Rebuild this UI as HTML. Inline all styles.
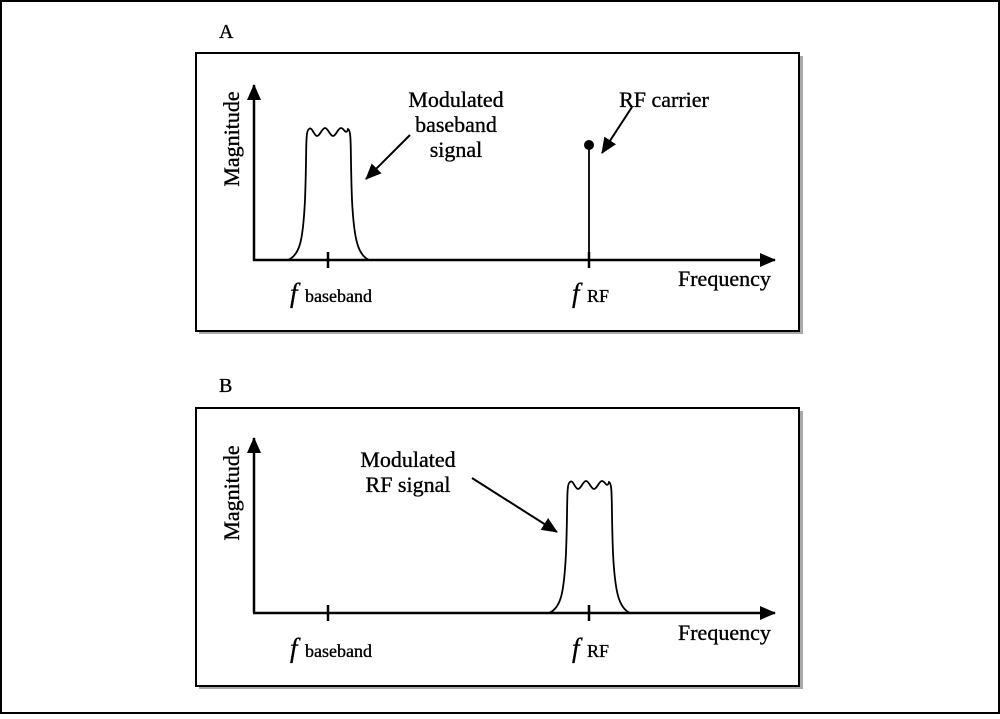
<!DOCTYPE html>
<html><head><style>
html,body{margin:0;padding:0;background:#fff}
svg text{font-family:"Liberation Serif",serif;fill:#000;stroke:#000;stroke-width:0.35}
</style></head><body>
<svg width="1000" height="714" viewBox="0 0 1000 714" xmlns="http://www.w3.org/2000/svg">
<defs>
<marker id="ah2" markerWidth="16" markerHeight="14" refX="15" refY="7" orient="auto" markerUnits="userSpaceOnUse"><path d="M0,0 L16,7 L0,14 z" fill="#000"/></marker></defs>
<rect x="1" y="1" width="998" height="712" fill="#fff" stroke="#000" stroke-width="2"/>
<!-- Panel A -->
<text x="219" y="38" font-size="20">A</text>
<rect x="199" y="56" width="604" height="278" fill="#aaa"/>
<rect x="196" y="53" width="603" height="278" fill="#fff" stroke="#000" stroke-width="2"/>
<line x1="254" y1="261" x2="254" y2="85" stroke="#000" stroke-width="2.5" marker-end="url(#ah2)"/>
<line x1="253" y1="260" x2="775" y2="260" stroke="#000" stroke-width="2.5" marker-end="url(#ah2)"/>
<line x1="328" y1="252" x2="328" y2="268" stroke="#000" stroke-width="2.5"/>
<line x1="589" y1="252" x2="589" y2="268" stroke="#000" stroke-width="2.5"/>
<path d="M288,260 C300,255 303,240 305,200 C307,150 305,131 309,129 C312,126 314,136 317,136 C320,136 322,128 325,128 C328,128 330,136 333,136 C336,136 338,128 341,128 C344,128 346,136 348,129 C352,131 350,150 352,200 C354,240 358,255 369,260" fill="none" stroke="#000" stroke-width="1.8"/>
<line x1="589" y1="260" x2="589" y2="145" stroke="#000" stroke-width="1.8"/>
<circle cx="589" cy="145" r="5" fill="#000"/>
<line x1="410" y1="135" x2="366" y2="179" stroke="#000" stroke-width="2" marker-end="url(#ah2)"/>
<line x1="632" y1="107" x2="602" y2="153" stroke="#000" stroke-width="2" marker-end="url(#ah2)"/>
<text x="456" y="107" font-size="22" text-anchor="middle">Modulated</text>
<text x="456" y="132" font-size="22" text-anchor="middle">baseband</text>
<text x="456" y="157" font-size="22" text-anchor="middle">signal</text>
<text x="664" y="107" font-size="22" text-anchor="middle">RF carrier</text>
<text transform="translate(239,139) rotate(-90)" font-size="22" text-anchor="middle">Magnitude</text>
<text x="678" y="286" font-size="22">Frequency</text>
<text x="290" y="302" font-size="27" font-style="italic">f</text>
<text x="305" y="302" font-size="18">baseband</text>
<text x="572" y="302" font-size="27" font-style="italic">f</text>
<text x="587" y="302" font-size="18">RF</text>
<!-- Panel B -->
<text x="219" y="392" font-size="20">B</text>
<rect x="199" y="411" width="604" height="278" fill="#aaa"/>
<rect x="196" y="408" width="603" height="278" fill="#fff" stroke="#000" stroke-width="2"/>
<line x1="254" y1="613" x2="254" y2="438" stroke="#000" stroke-width="2.5" marker-end="url(#ah2)"/>
<line x1="253" y1="613" x2="775" y2="613" stroke="#000" stroke-width="2.5" marker-end="url(#ah2)"/>
<line x1="328" y1="605" x2="328" y2="621" stroke="#000" stroke-width="2.5"/>
<line x1="589" y1="605" x2="589" y2="621" stroke="#000" stroke-width="2.5"/>
<path d="M549,613 C561,608 564,593 566,553 C568,503 566,484 570,482 C573,479 575,489 578,489 C581,489 583,481 586,481 C589,481 591,489 594,489 C597,489 599,481 602,481 C605,481 607,489 609,482 C613,484 611,503 613,553 C615,593 619,608 630,613" fill="none" stroke="#000" stroke-width="1.8"/>
<line x1="472" y1="478" x2="557" y2="532" stroke="#000" stroke-width="2" marker-end="url(#ah2)"/>
<text x="408" y="467" font-size="22" text-anchor="middle">Modulated</text>
<text x="408" y="492" font-size="22" text-anchor="middle">RF signal</text>
<text transform="translate(239,493) rotate(-90)" font-size="22" text-anchor="middle">Magnitude</text>
<text x="678" y="640" font-size="22">Frequency</text>
<text x="290" y="657" font-size="27" font-style="italic">f</text>
<text x="305" y="657" font-size="18">baseband</text>
<text x="572" y="657" font-size="27" font-style="italic">f</text>
<text x="587" y="657" font-size="18">RF</text>
</svg>
</body></html>
